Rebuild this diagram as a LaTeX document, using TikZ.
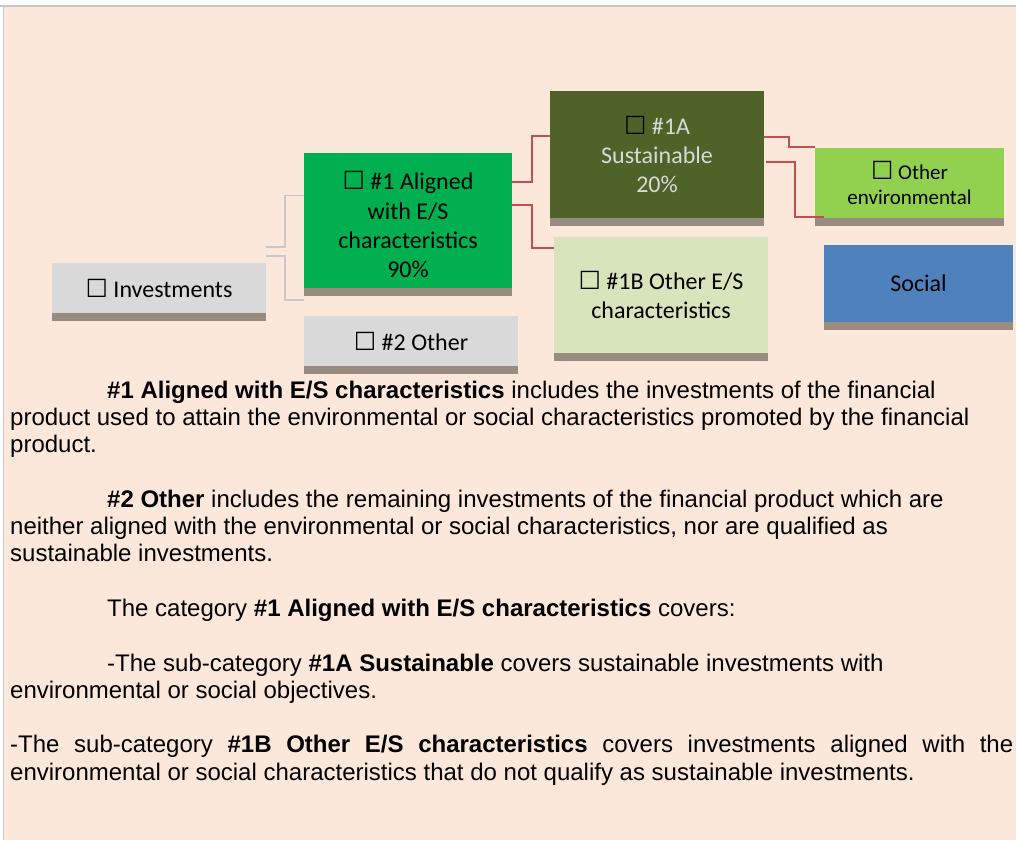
\documentclass[tikz,border=0pt]{standalone}
\usepackage{fontspec}
\setmainfont{Liberation Sans}
\newfontfamily\calibri{Carlito}
\newfontfamily\symb{DejaVu Sans}
\usepackage{tikz}
\usetikzlibrary{positioning}
\setlength{\parskip}{0pt}
\setlength{\parindent}{0pt}
\definecolor{pagebg}{HTML}{FCE8DA}
\definecolor{alignedgreen}{HTML}{00B050}
\definecolor{sustolive}{HTML}{4F6228}
\definecolor{otheresgreen}{HTML}{D8E4BC}
\definecolor{envlime}{HTML}{92D050}
\definecolor{socialblue}{HTML}{4F81BD}
\definecolor{neutralgrey}{HTML}{D9D9D9}
\definecolor{shadowbar}{HTML}{988B80}
\definecolor{linkred}{HTML}{C0504D}
\definecolor{linkgrey}{HTML}{C8C8C8}
\newcommand{\chk}{{\symb\fontsize{25}{25}\selectfont ☐}}

\begin{document}
\begin{tikzpicture}[x=1pt, y=-1pt,
    catbox/.style={inner sep=0pt, align=center, text=black, font=\calibri\fontsize{24}{29.3}\selectfont},
    greylink/.style={draw=linkgrey, line width=1.7pt},
    redlink/.style={draw=linkred, line width=1.5pt}]
    \useasboundingbox (0,0) rectangle (1016,840);
    \fill[white] (0,0) rectangle (1016,840);
    \fill[pagebg] (4,7) rectangle (1016,840);
    \draw[linkgrey, line width=2pt] (0,6.5) -- (1016,6.5);
    \draw[linkgrey, line width=1pt] (3.5,7) -- (3.5,840);

    \node[catbox, fill=neutralgrey, minimum width=214pt, minimum height=50pt] (inv) at (159,288) {\chk\ Investments};
    \node[catbox, fill=alignedgreen, minimum width=208pt, minimum height=135pt] (al) at (408,220.5) {\rule{0pt}{27pt}\chk\ \#1 Aligned\\with E/S\\characteristics\\90\%};
    \node[catbox, fill=neutralgrey, minimum width=214pt, minimum height=50pt] (ot) at (411,341) {\chk\ \#2 Other};
    \node[catbox, fill=sustolive, text=neutralgrey, minimum width=214pt, minimum height=127pt] (sus) at (657,154.5) {{\color{black}\chk}\ \#1A\\Sustainable\\20\%};
    \node[catbox, fill=otheresgreen, minimum width=214pt, minimum height=116pt] (oes) at (661,295) {\chk\ \#1B Other E/S\\characteristics};
    \node[catbox, fill=envlime, minimum width=189pt, minimum height=70pt, font=\calibri\fontsize{21}{25.7}\selectfont] (env) at (909.5,183) {\chk\ Other\\environmental};
    \node[catbox, fill=socialblue, minimum width=189pt, minimum height=77pt] (soc) at (918.5,283.5) {Social};
    \foreach \n in {inv,al,ot,sus,oes,env,soc}
        \fill[shadowbar] (\n.south west) rectangle ([yshift=-8pt]\n.south east);

    \draw[greylink] ([yshift=16pt]inv.north east) -- ++(19,0) |- ([yshift=25pt]al.west);
    \draw[greylink] ([yshift=7pt]inv.north east) -- ++(19,0) |- ([yshift=-12pt]al.south west);
    \draw[redlink] ([yshift=38.5pt]al.east) -- ++(20,0) |- ([yshift=18.5pt]sus.west);
    \draw[redlink] ([yshift=15.5pt]al.east) -- ++(20,0) |- ([yshift=-11pt]oes.north west);
    \draw[redlink] ([yshift=17.5pt]sus.east) -- ++(25,0) |- ([yshift=1pt]env.north west);
    \draw[redlink] ([yshift=-7.5pt,xshift=2pt]sus.east) -- ++(29,0) |- ([yshift=28pt]soc.north west);

    \node[anchor=base west, inner sep=0pt, text width=1003pt, align=justify, font=\fontsize{24}{27.3}\selectfont] (notes) at (10,398) {%
        \hspace*{97pt}\textbf{\#1 Aligned with E/S characteristics} includes the investments of the financial\\
        product used to attain the environmental or social characteristics promoted by the financial\\
        product.\par\vspace{27.3pt}
        \hspace*{97pt}\textbf{\#2 Other} includes the remaining investments of the financial product which are\\
        neither aligned with the environmental or social characteristics, nor are qualified as\\
        sustainable investments.\par\vspace{27.3pt}
        \hspace*{97pt}The category \textbf{\#1 Aligned with E/S characteristics} covers:\par\vspace{27.3pt}
        \hspace*{97pt}-The sub-category \textbf{\#1A Sustainable} covers sustainable investments with\\
        environmental or social objectives.\par\vspace{27.3pt}
        -The sub-category \textbf{\#1B Other E/S characteristics} covers investments aligned with the\linebreak
        environmental or social characteristics that do not qualify as sustainable investments.};
\end{tikzpicture}
\end{document}
